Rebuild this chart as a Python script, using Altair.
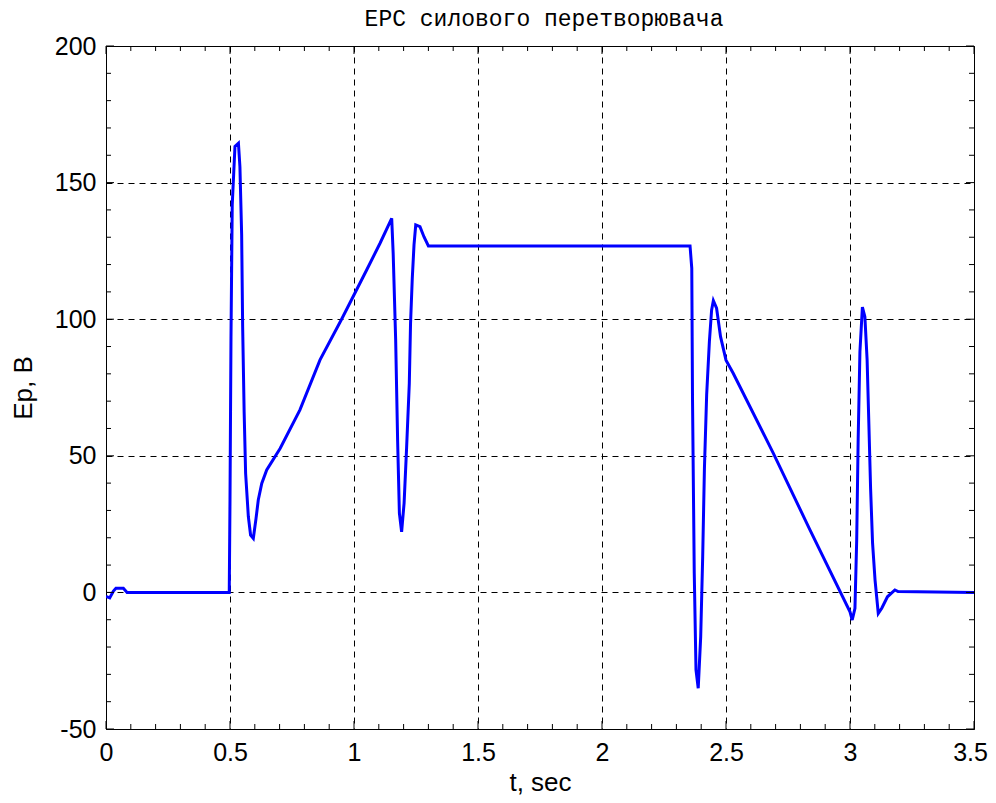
import altair as alt
import pandas as pd

# Time (s) and EMF (V)
T = [0, 0.015, 0.03, 0.04, 0.07, 0.085, 0.497,
     0.500, 0.504, 0.509, 0.520, 0.534, 0.540, 0.547, 0.551, 0.557, 0.563, 0.574, 0.583,
     0.594, 0.605, 0.614, 0.628, 0.648, 0.702, 0.782, 0.863, 0.950, 1.051, 1.105, 1.152,
     1.158, 1.168, 1.176, 1.183, 1.192, 1.202, 1.212, 1.223, 1.228, 1.235, 1.242, 1.249,
     1.266, 1.282, 1.300,
     2.355, 2.362, 2.365, 2.372, 2.379, 2.388, 2.398, 2.406, 2.413, 2.422, 2.433, 2.442,
     2.449, 2.462, 2.478, 2.5, 2.529, 2.691, 2.839, 3.0, 3.009, 3.02, 3.027, 3.033, 3.04,
     3.05, 3.06, 3.069, 3.076, 3.083, 3.091, 3.101, 3.114, 3.128, 3.151, 3.181, 3.194, 3.5]
E = [-1.5, -2, 0.5, 1.5, 1.5, 0, 0,
     33.8, 93.6, 141.8, 163.2, 164.4, 155.8, 130.8, 97.3, 66.1, 43.5, 27.7, 21,
     19.8, 27.1, 33.8, 39.9, 44.8, 52.7, 66.8, 85.1, 100, 118, 127.8, 136.9,
     124, 92.4, 55.2, 29, 22.2, 32.7, 52.7, 76.5, 98.5, 115, 127.2, 134.5,
     133.9, 130.2, 126.8,
     126.8, 118.6, 70.4, 7, -28.4, -35.1, -16.2, 13.1, 45.4, 72.3, 91.8, 103.4,
     106.8, 104, 93.6, 85, 80.2, 50.9, 22.8, -7.1, -10.1, -5.8, 19.2, 56.4, 88.1,
     104.4, 100.9, 85.1, 61.9, 38.1, 18, 4.5, -7.7, -5.8, -1.6, 0.9, 0.3, 0]
assert len(T) == len(E)

X_MAJOR = [0, 0.5, 1, 1.5, 2, 2.5, 3, 3.5]
X_MINOR = [0.1, 0.2, 0.3, 0.4, 0.6, 0.7, 0.8, 0.9, 1.1, 1.2, 1.3, 1.4, 1.6, 1.7, 1.8, 1.9,
           2.1, 2.2, 2.3, 2.4, 2.6, 2.7, 2.8, 2.9, 3.1, 3.2, 3.3, 3.4]
Y_MAJOR = [-50, 0, 50, 100, 150, 200]
Y_MINOR = [-40, -30, -20, -10, 10, 20, 30, 40, 60, 70, 80, 90, 110, 120, 130, 140,
           160, 170, 180, 190]

W, H = 868, 683
XD = [0, 3.5]
YD = [-50, 200]
LABEL_FONT = "Liberation Sans"
LS = 25

xs = alt.Scale(domain=XD, nice=False, zero=False)
ys = alt.Scale(domain=YD, nice=False, zero=False)

df = pd.DataFrame({"t": T, "e": E})

line = alt.Chart(df).mark_line(color="#0000FF", strokeWidth=3, clip=True).encode(
    x=alt.X("t:Q", scale=xs, title="t, sec",
            axis=alt.Axis(values=X_MAJOR, labelExpr="'' + datum.value", grid=True,
                          gridColor="black", gridDash=[6, 5], gridOpacity=1, gridWidth=1,
                          ticks=False, domain=False, labelPadding=11, titlePadding=4,
                          labelFlush=False,
                          labelOffset={"condition": {"test": "datum.value === 3.5", "value": -4},
                                       "value": 0},
                          labelFont=LABEL_FONT, labelFontSize=LS, labelColor="black",
                          titleFont=LABEL_FONT, titleFontSize=26, titleFontWeight="normal",
                          titleColor="black")),
    y=alt.Y("e:Q", scale=ys, title="Ep, B",
            axis=alt.Axis(values=Y_MAJOR, labelExpr="'' + datum.value", grid=True,
                          gridColor="black", gridDash=[6, 5], gridOpacity=1, gridWidth=1,
                          ticks=False, domain=False, labelPadding=10, titlePadding=18,
                          labelFlush=False,
                          labelFont=LABEL_FONT, labelFontSize=LS, labelColor="black",
                          titleFont=LABEL_FONT, titleFontSize=26, titleFontWeight="normal",
                          titleColor="black")),
)

def xticks(vals, length):
    d = pd.DataFrame({"tx": vals})
    bottom = alt.Chart(d).mark_rule(color="black", strokeWidth=1).encode(
        x=alt.X("tx:Q", scale=xs), y=alt.value(H), y2=alt.value(H - length))
    top = alt.Chart(d).mark_rule(color="black", strokeWidth=1).encode(
        x=alt.X("tx:Q", scale=xs), y=alt.value(0), y2=alt.value(length))
    return [bottom, top]

def yticks(vals, length):
    d = pd.DataFrame({"ty": vals})
    left = alt.Chart(d).mark_rule(color="black", strokeWidth=1).encode(
        y=alt.Y("ty:Q", scale=ys), x=alt.value(0), x2=alt.value(length))
    right = alt.Chart(d).mark_rule(color="black", strokeWidth=1).encode(
        y=alt.Y("ty:Q", scale=ys), x=alt.value(W), x2=alt.value(W - length))
    return [left, right]

layers = [line] + xticks(X_MAJOR, 8) + xticks(X_MINOR, 5) + yticks(Y_MAJOR, 8) + yticks(Y_MINOR, 5)

chart = alt.layer(*layers).properties(
    width=W, height=H,
    title=alt.Title("ЕРС силового перетворювача", font="Liberation Mono", fontSize=23,
                    fontWeight="normal", color="black", baseline="alphabetic", offset=1,
                    dy=16, dx=4),
    autosize=alt.AutoSizeParams(type="none"),
    padding={"left": 98, "top": 38, "right": 14, "bottom": 66},
    background="white",
).configure_view(stroke="black", strokeWidth=1)

chart.save("out.html", embed_options={"renderer": "svg", "actions": False})
